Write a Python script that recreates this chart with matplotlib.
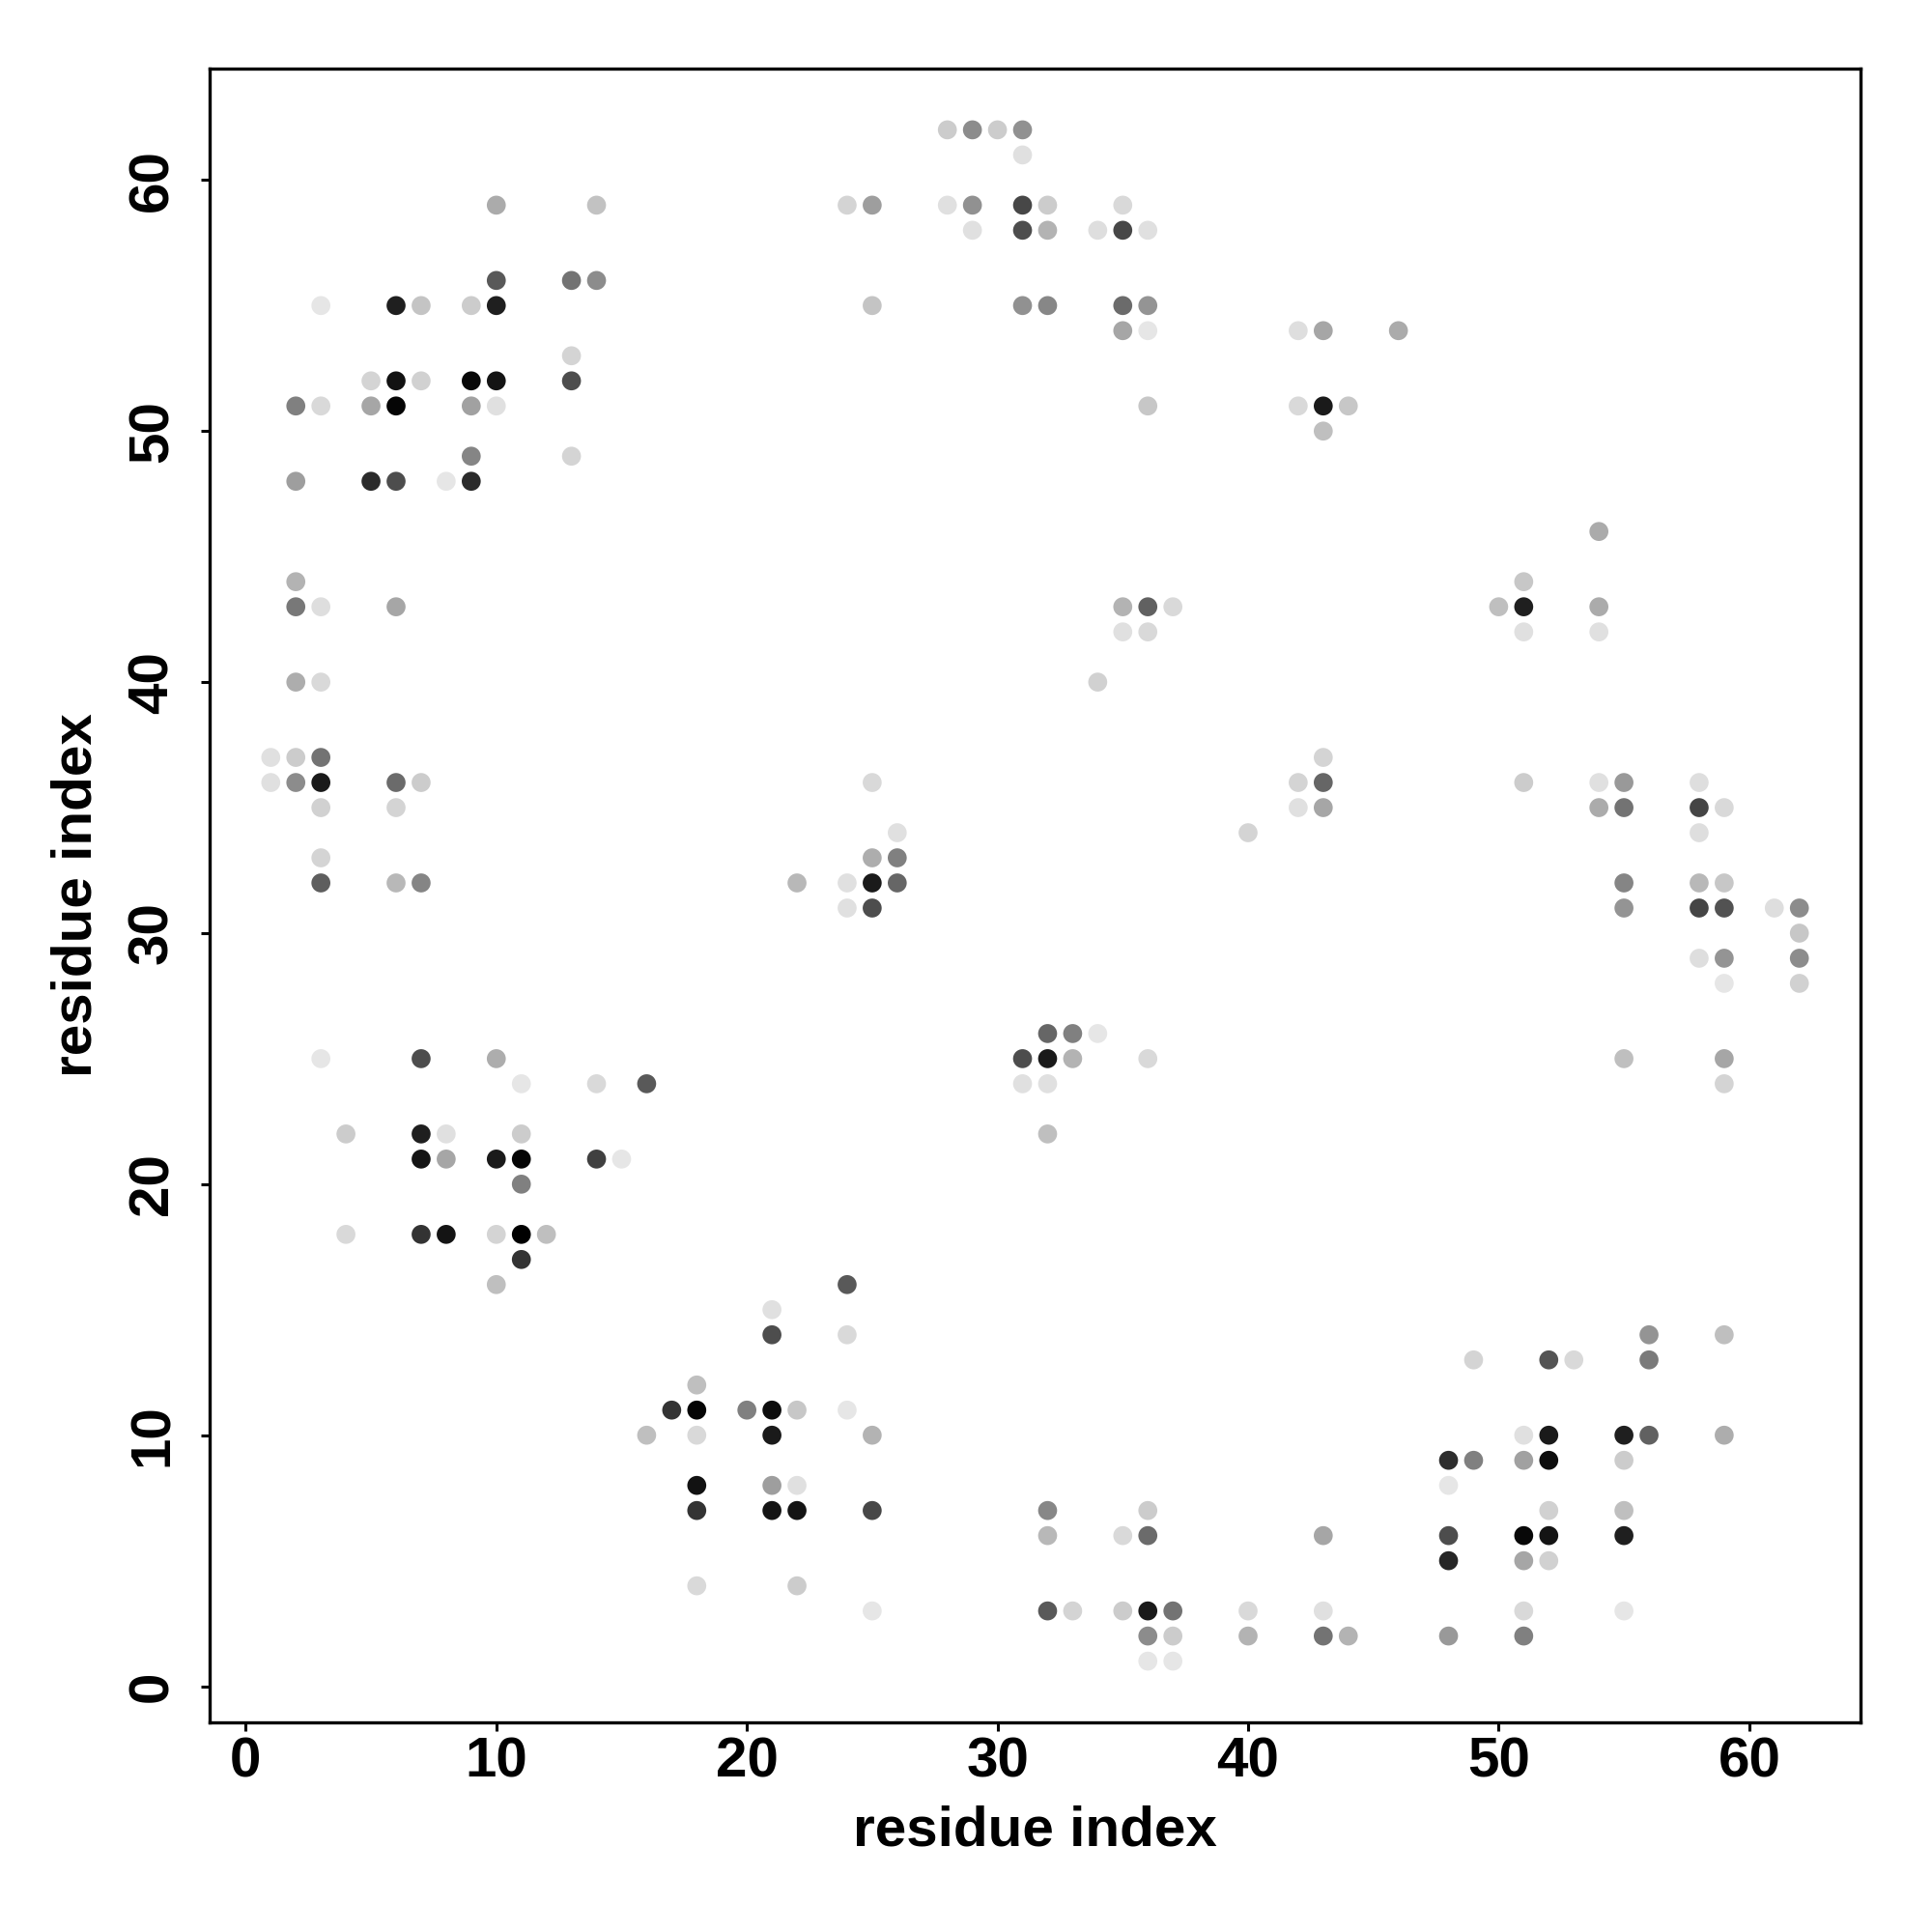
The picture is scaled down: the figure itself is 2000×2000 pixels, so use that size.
import numpy as np
import matplotlib.pyplot as plt

plt.rcParams['font.family'] = ['Liberation Sans', 'DejaVu Sans']
plt.rcParams['font.weight'] = 'bold'

# contact pairs (residue i, residue j) and grey level of each dot (0 = black, 1 = white)
res_x = [
    10, 14,
    10, 13, 14,
    3, 6, 7, 9, 10,
    13,
    5, 6, 7, 9, 10, 13,
    2, 3, 5, 6, 9, 10,
    9, 13,
    2, 5, 6, 8, 9,
    2,
    2, 3, 6,
    28, 29, 30, 31,
    31,
    24, 25, 28, 29, 31, 32, 35,
    29, 31, 32, 34, 35, 36,
    25, 31, 32, 35, 36,
    35, 36, 42, 43, 46,
    36, 42, 43, 44,
    43,
    35, 36, 37, 50, 51, 54,
    35, 36, 51, 54,
    54,
    51,
    2, 3, 34,
    1, 2, 3, 43,
    1, 2, 3, 6, 7, 25, 42, 43, 51, 54, 55, 58,
    3, 6, 42, 43, 54, 55, 58, 59,
    26, 40, 58,
    3, 25, 26,
    3, 6, 7, 22, 24, 25, 26, 55, 58, 59,
    24, 25, 55, 58, 59, 61, 62,
    62,
    58, 59, 62,
    59, 62,
    32, 33, 34,
    3, 7, 10, 31, 32, 33, 36, 55, 59,
    11, 14, 16, 31, 32, 59,
    4, 7, 8, 11, 32,
    7, 8, 10, 11, 14, 15,
    11,
    4, 7, 8, 10, 11, 12,
    11,
    10, 24,
    21,
    21, 24, 56, 59,
    49, 52, 53, 56,
    18,
    17, 18, 20, 21, 22, 24,
    16, 18, 21, 25, 51, 52, 55, 56, 59,
    48, 49, 51, 52, 55,
    18, 21, 22, 48,
    18, 21, 22, 25, 32, 36, 52, 55,
    32, 35, 36, 43, 48, 51, 52, 55,
    48, 51, 52,
    18, 22,
    25, 32, 33, 35, 36, 37, 40, 43, 51, 55,
    36, 37, 40, 43, 44, 48, 51,
    36, 37,
]

res_y = [
    59, 59,
    56, 56, 56,
    55, 55, 55, 55, 55,
    53,
    52, 52, 52, 52, 52, 52,
    51, 51, 51, 51, 51, 51,
    49, 49,
    48, 48, 48, 48, 48,
    44,
    43, 43, 43,
    62, 62, 62, 62,
    61,
    59, 59, 59, 59, 59, 59, 59,
    58, 58, 58, 58, 58, 58,
    55, 55, 55, 55, 55,
    54, 54, 54, 54, 54,
    51, 51, 51, 51,
    50,
    43, 43, 43, 43, 43, 43,
    42, 42, 42, 42,
    46,
    44,
    40, 40, 40,
    37, 37, 37, 37,
    36, 36, 36, 36, 36, 36, 36, 36, 36, 36, 36, 36,
    35, 35, 35, 35, 35, 35, 35, 35,
    34, 34, 34,
    33, 33, 33,
    32, 32, 32, 32, 32, 32, 32, 32, 32, 32,
    31, 31, 31, 31, 31, 31, 31,
    30,
    29, 29, 29,
    28, 28,
    26, 26, 26,
    25, 25, 25, 25, 25, 25, 25, 25, 25,
    24, 24, 24, 24, 24, 24,
    22, 22, 22, 22, 22,
    21, 21, 21, 21, 21, 21,
    20,
    18, 18, 18, 18, 18, 18,
    17,
    16, 16,
    15,
    14, 14, 14, 14,
    13, 13, 13, 13,
    12,
    11, 11, 11, 11, 11, 11,
    10, 10, 10, 10, 10, 10, 10, 10, 10,
    9, 9, 9, 9, 9,
    8, 8, 8, 8,
    7, 7, 7, 7, 7, 7, 7, 7,
    6, 6, 6, 6, 6, 6, 6, 6,
    5, 5, 5,
    4, 4,
    3, 3, 3, 3, 3, 3, 3, 3, 3, 3,
    2, 2, 2, 2, 2, 2, 2,
    1, 1,
]

shade = [
    .67, .76,
    .35, .45, .55,
    .90, .12, .77, .80, .12,
    .83,
    .83, .07, .82, .03, .08, .30,
    .50, .85, .65, .02, .63, .88,
    .52, .83,
    .62, .17, .30, .90, .17,
    .70,
    .47, .87, .65,
    .80, .55, .80, .57,
    .88,
    .83, .62, .88, .57, .28, .80, .85,
    .88, .30, .70, .87, .28, .88,
    .77, .57, .53, .42, .58,
    .65, .90, .87, .65, .67,
    .78, .85, .10, .78,
    .75,
    .70, .38, .85, .75, .12, .67,
    .88, .85, .88, .88,
    .67,
    .78,
    .68, .85, .82,
    .88, .80, .45, .83,
    .88, .55, .10, .42, .80, .85, .83, .40, .80, .88, .60, .87,
    .82, .83, .88, .65, .67, .45, .27, .85,
    .88, .83, .87,
    .83, .68, .50,
    .37, .72, .52, .72, .88, .10, .40, .52, .72, .78,
    .88, .30, .58, .27, .32, .87, .55,
    .78,
    .87, .58, .55,
    .90, .82,
    .40, .50, .90,
    .90, .30, .68, .30, .10, .70, .85, .75, .65,
    .90, .85, .35, .88, .88, .83,
    .80, .12, .88, .80, .75,
    .08, .65, .10, .02, .25, .90,
    .50,
    .85, .20, .08, .83, .00, .75,
    .20,
    .75, .35,
    .88,
    .30, .85, .58, .75,
    .83, .33, .85, .48,
    .75,
    .20, .02, .50, .05, .78, .90,
    .75, .85, .10, .70, .88, .10, .12, .38, .68,
    .18, .50, .63, .05, .80,
    .07, .62, .88, .90,
    .20, .08, .08, .28, .53, .80, .82, .75,
    .72, .85, .42, .65, .30, .03, .08, .12,
    .15, .65, .82,
    .85, .80,
    .90, .35, .83, .80, .10, .45, .85, .88, .85, .90,
    .55, .80, .70, .45, .70, .60, .50,
    .90, .90,
]

colors = [(g, g, g) for g in shade]

fig = plt.figure(figsize=(10, 10), dpi=200)
ax = fig.add_axes([0.1085, 0.1085, 0.8545, 0.856])

ax.scatter(res_x, res_y, c=colors, s=50, linewidths=0, zorder=3)

ax.set_xlim(-1.44, 64.44)
ax.set_ylim(-1.44, 64.44)
ax.set_xticks(np.arange(0, 61, 10))
ax.set_yticks(np.arange(0, 61, 10))
ax.tick_params(axis='both', direction='out', length=3.3, width=1.1,
               labelsize=21)
ax.tick_params(axis='x', pad=2)
ax.tick_params(axis='y', pad=8)
plt.setp(ax.get_yticklabels(), rotation=90, va='center')
for s in ax.spines.values():
    s.set_linewidth(1.2)

ax.set_xlabel('residue index', fontsize=21, fontweight='bold', labelpad=6)
ax.set_ylabel('residue index', fontsize=21, fontweight='bold', labelpad=9)

fig.savefig('out.png', dpi=200, facecolor='white')
